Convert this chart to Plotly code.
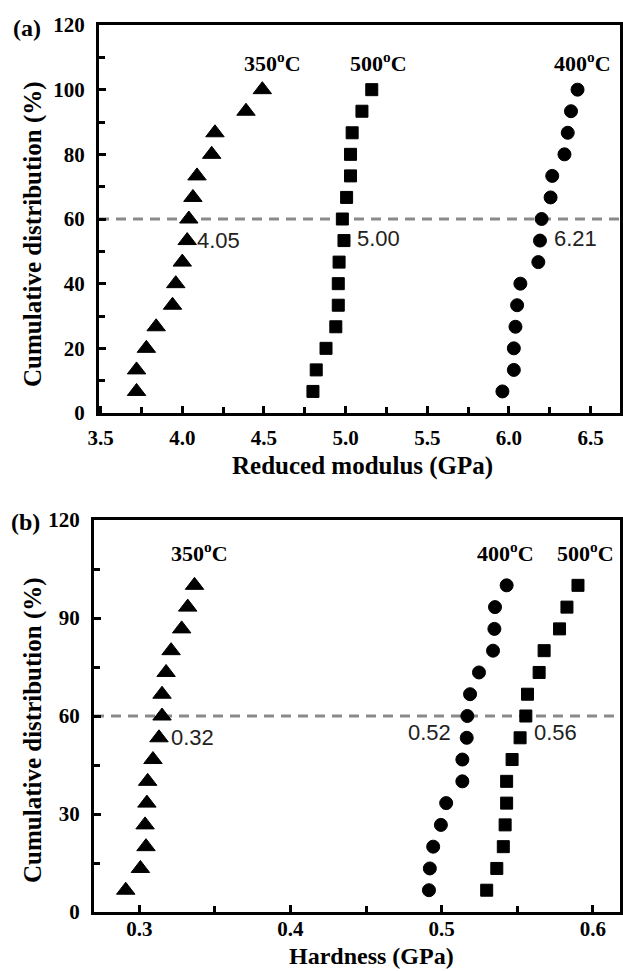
import plotly.graph_objects as go

# cumulative distribution levels (%)
cum = [6.67, 13.33, 20.0, 26.67, 33.33, 40.0, 46.67, 53.33, 60.0, 66.67, 73.33, 80.0, 86.67, 93.33, 100.0]

# (a) reduced modulus (GPa)
mod_350 = [3.72, 3.72, 3.78, 3.84, 3.94, 3.96, 4.00, 4.03, 4.04, 4.065, 4.09, 4.18, 4.20, 4.39, 4.49]
mod_500 = [4.80, 4.82, 4.88, 4.94, 4.955, 4.955, 4.96, 4.99, 4.98, 5.006, 5.03, 5.03, 5.04, 5.10, 5.16]
mod_400 = [5.96, 6.03, 6.03, 6.04, 6.05, 6.07, 6.18, 6.19, 6.20, 6.255, 6.265, 6.34, 6.36, 6.38, 6.42]

# (b) hardness (GPa)
hard_350 = [0.291, 0.3007, 0.3044, 0.3038, 0.305, 0.3055, 0.309, 0.313, 0.315, 0.315, 0.3177, 0.321, 0.328, 0.332, 0.3365]
hard_400 = [0.4916, 0.4922, 0.4944, 0.4995, 0.503, 0.5137, 0.5137, 0.5166, 0.517, 0.5188, 0.5247, 0.534, 0.5349, 0.5353, 0.543]
hard_500 = [0.5298, 0.5365, 0.5408, 0.542, 0.543, 0.543, 0.5466, 0.5519, 0.5557, 0.5568, 0.5645, 0.5678, 0.578, 0.5829, 0.5902]

median_level = 60
mod_medians = {"350": 4.05, "500": 5.00, "400": 6.21}
hard_medians = {"350": 0.32, "400": 0.52, "500": 0.56}

x_title_a = "Reduced modulus (GPa)"
x_title_b = "Hardness (GPa)"
y_title = "Cumulative distribution (%)"

SERIF = "Liberation Serif, Times New Roman, serif"
SANS = "Liberation Sans, Arial, sans-serif"
W, H = 623, 971

fig = go.Figure()

def add(x, y, sym, size, xa, ya):
    fig.add_trace(go.Scatter(x=x, y=y, mode="markers", xaxis=xa, yaxis=ya,
                             marker=dict(symbol=sym, size=size, color="black",
                                         line=dict(width=1, color="black")),
                             showlegend=False, hoverinfo="skip"))

add(mod_350, cum, "triangle-up", 16, "x", "y")
add(mod_500, cum, "square", 12, "x", "y")
add(mod_400, cum, "circle", 13, "x", "y")
add(hard_350, cum, "triangle-up", 16, "x2", "y2")
add(hard_400, cum, "circle", 13, "x2", "y2")
add(hard_500, cum, "square", 12, "x2", "y2")

tickfont = dict(family=SERIF, size=21, color="black", weight="bold")
titlefont = dict(family=SERIF, size=25, color="black", weight="bold")

def xaxis(domain, rng, dtick, fmt, anchor, standoff):
    return dict(domain=domain, range=rng, dtick=dtick, tick0=0, tickformat=fmt,
                showline=True, linewidth=3, linecolor="black", mirror=True,
                ticks="inside", ticklen=7, tickwidth=3, tickcolor="black",
                minor=dict(ticks="inside", ticklen=6, tickwidth=3, tickcolor="black", dtick=dtick / 2, tick0=0),
                showgrid=False, zeroline=False, tickfont=tickfont, anchor=anchor,
                ticklabelstandoff=standoff, automargin=False)

def yaxis(domain, dtick, anchor):
    return dict(domain=domain, range=[0, 120], dtick=dtick, tick0=0,
                showline=True, linewidth=3, linecolor="black", mirror=True,
                ticks="inside", ticklen=7, tickwidth=3, tickcolor="black",
                minor=dict(ticks="inside", ticklen=6, tickwidth=3, tickcolor="black", dtick=dtick / 2, tick0=0),
                showgrid=False, zeroline=False, tickfont=tickfont, anchor=anchor,
                ticklabelstandoff=7, automargin=False)

fig.update_layout(
    width=W, height=H,
    margin=dict(l=0, r=0, t=0, b=0),
    paper_bgcolor="white", plot_bgcolor="white",
    xaxis=xaxis([99 / W, 620 / W], [3.49, 6.68], 0.5, ".1f", "y", 4),
    yaxis=yaxis([1 - 413 / H, 1 - 25 / H], 20, "x"),
    xaxis2=xaxis([94 / W, 620 / W], [0.27, 0.618], 0.1, ".1f", "y2", -4),
    yaxis2=yaxis([1 - 912 / H, 1 - 520 / H], 30, "x2"),
)

shapes = []
for xr, yr in [("x domain", "y"), ("x2 domain", "y2")]:
    shapes.append(dict(type="line", xref=xr, yref=yr, x0=0, x1=1, y0=median_level, y1=median_level,
                       line=dict(color="#8a8a8a", width=3, dash="10px,7px"), layer="below"))
fig.update_layout(shapes=shapes)

ann = []
numfont = dict(family=SANS, size=22, color="#222")
for x, y, t, xa, ya in [(4.22, 53.5, mod_medians["350"], "x", "y"),
                        (5.20, 54, mod_medians["500"], "x", "y"),
                        (6.41, 54, mod_medians["400"], "x", "y"),
                        (0.335, 53.3, hard_medians["350"], "x2", "y2"),
                        (0.4922, 54.8, hard_medians["400"], "x2", "y2"),
                        (0.5752, 55, hard_medians["500"], "x2", "y2")]:
    ann.append(dict(x=x, y=y, xref=xa, yref=ya, text=f"{t:.2f}", showarrow=False, font=numfont,
                    xanchor="center", yanchor="middle"))

labfont = dict(family=SERIF, size=22, color="black", weight="bold")
for x, y, t, xa, ya in [(4.553, 108.6, "350", "x", "y"),
                        (5.20, 108.6, "500", "x", "y"),
                        (6.45, 108.6, "400", "x", "y"),
                        (0.3398, 110.3, "350", "x2", "y2"),
                        (0.542, 110.3, "400", "x2", "y2"),
                        (0.595, 110.3, "500", "x2", "y2")]:
    ann.append(dict(x=x, y=y, xref=xa, yref=ya, text=f"{t}<sup>o</sup>C", showarrow=False, font=labfont,
                    xanchor="center", yanchor="middle"))

def paper_text(px, py, text, font, angle=0, yanchor="middle"):
    ann.append(dict(x=px / W, y=1 - py / H, xref="paper", yref="paper", text=text, showarrow=False,
                    font=font, xanchor="center", yanchor=yanchor, textangle=angle))

panelfont = dict(family=SERIF, size=24, color="black", weight="bold")
paper_text(27, 28, "(a)", panelfont)
paper_text(25, 522, "(b)", panelfont)
paper_text(362, 466, x_title_a, titlefont)
paper_text(371, 971, x_title_b, dict(titlefont, size=24), yanchor="bottom")
paper_text(33, 234, y_title, titlefont, -90)
paper_text(33, 730, y_title, titlefont, -90)
fig.update_layout(annotations=ann)

fig.write_html("out.html")
